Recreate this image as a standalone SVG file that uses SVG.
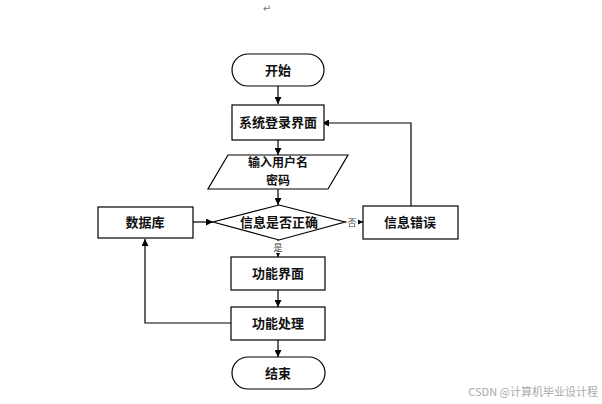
<svg xmlns="http://www.w3.org/2000/svg" width="602" height="404" viewBox="0 0 602 404">
<style>
.s{fill:#fff;stroke:#000;stroke-width:1.2}
.t{font-family:"Noto Sans CJK SC",sans-serif;font-size:13px;font-weight:bold;fill:#111;text-anchor:middle}
.t2{font-family:"Noto Sans CJK SC",sans-serif;font-size:12px;font-weight:bold;fill:#111;text-anchor:middle}
.l{fill:none;stroke:#000;stroke-width:1.2}
.sm{font-family:"Noto Sans CJK SC",sans-serif;font-size:9px;fill:#444;text-anchor:middle}
</style>
<defs>
<marker id="a" viewBox="0 0 10 10" refX="10" refY="5" markerWidth="7" markerHeight="7" markerUnits="userSpaceOnUse" orient="auto">
<path d="M0,0L10,5L0,10z" fill="#000"/>
</marker>
</defs>
<rect width="602" height="404" fill="#fff"/>
<text x="267" y="12" font-family="DejaVu Sans,sans-serif" font-size="10" fill="#777" text-anchor="middle">↵</text>
<g id="connectors">
<path class="l" d="M278,86V104" marker-end="url(#a)"/>
<path class="l" d="M278,140V155" marker-end="url(#a)"/>
<path class="l" d="M278,189V205" marker-end="url(#a)"/>
<path class="l" d="M193,222H213" marker-end="url(#a)"/>
<path class="l" d="M345,222H363" marker-end="url(#a)"/>
<path class="l" d="M411,206V123H322" marker-end="url(#a)"/>
<path class="l" d="M278,240V257" stroke-width="0.8" marker-end="url(#a)"/>
<path class="l" d="M278,290V307" marker-end="url(#a)"/>
<path class="l" d="M278,340V357" marker-end="url(#a)"/>
<path class="l" d="M231,323H145V239" marker-end="url(#a)"/>
<rect x="346" y="216" width="12" height="12" fill="#fff"/>
<text class="sm" x="352" y="226">否</text>
<rect x="272" y="241" width="12" height="12" fill="#fff"/>
<text class="sm" x="278" y="251">是</text>
</g>
<g id="start">
<rect class="s" x="232" y="54" width="92" height="32" rx="16"/>
<text class="t" x="278" y="75">开始</text>
</g>
<g id="login">
<rect class="s" x="232" y="105" width="92" height="35"/>
<text class="t" x="278" y="127">系统登录界面</text>
</g>
<g id="input">
<polygon class="s" points="228,155 348,155 328,189 208,189"/>
<text class="t2" x="278" y="167">输入用户名</text>
<text class="t2" x="278" y="185">密码</text>
</g>
<g id="check">
<polygon class="s" points="279,205 345,222 279,240 213,222"/>
<text class="t" x="279" y="227">信息是否正确</text>
</g>
<g id="db">
<rect class="s" x="98" y="207" width="95" height="31"/>
<text class="t" x="145" y="227">数据库</text>
</g>
<g id="error">
<rect class="s" x="363" y="206" width="95" height="33"/>
<text class="t" x="410" y="227">信息错误</text>
</g>
<g id="func">
<rect class="s" x="231" y="257" width="94" height="33"/>
<text class="t" x="278" y="278">功能界面</text>
</g>
<g id="proc">
<rect class="s" x="231" y="307" width="94" height="33"/>
<text class="t" x="278" y="328">功能处理</text>
</g>
<g id="end">
<rect class="s" x="232" y="357" width="93" height="32" rx="16"/>
<text class="t" x="278" y="378">结束</text>
</g>
<text x="598" y="396" font-family="Noto Sans CJK SC,sans-serif" font-size="11" fill="#aaa" text-anchor="end">CSDN @计算机毕业设计程</text>
</svg>
